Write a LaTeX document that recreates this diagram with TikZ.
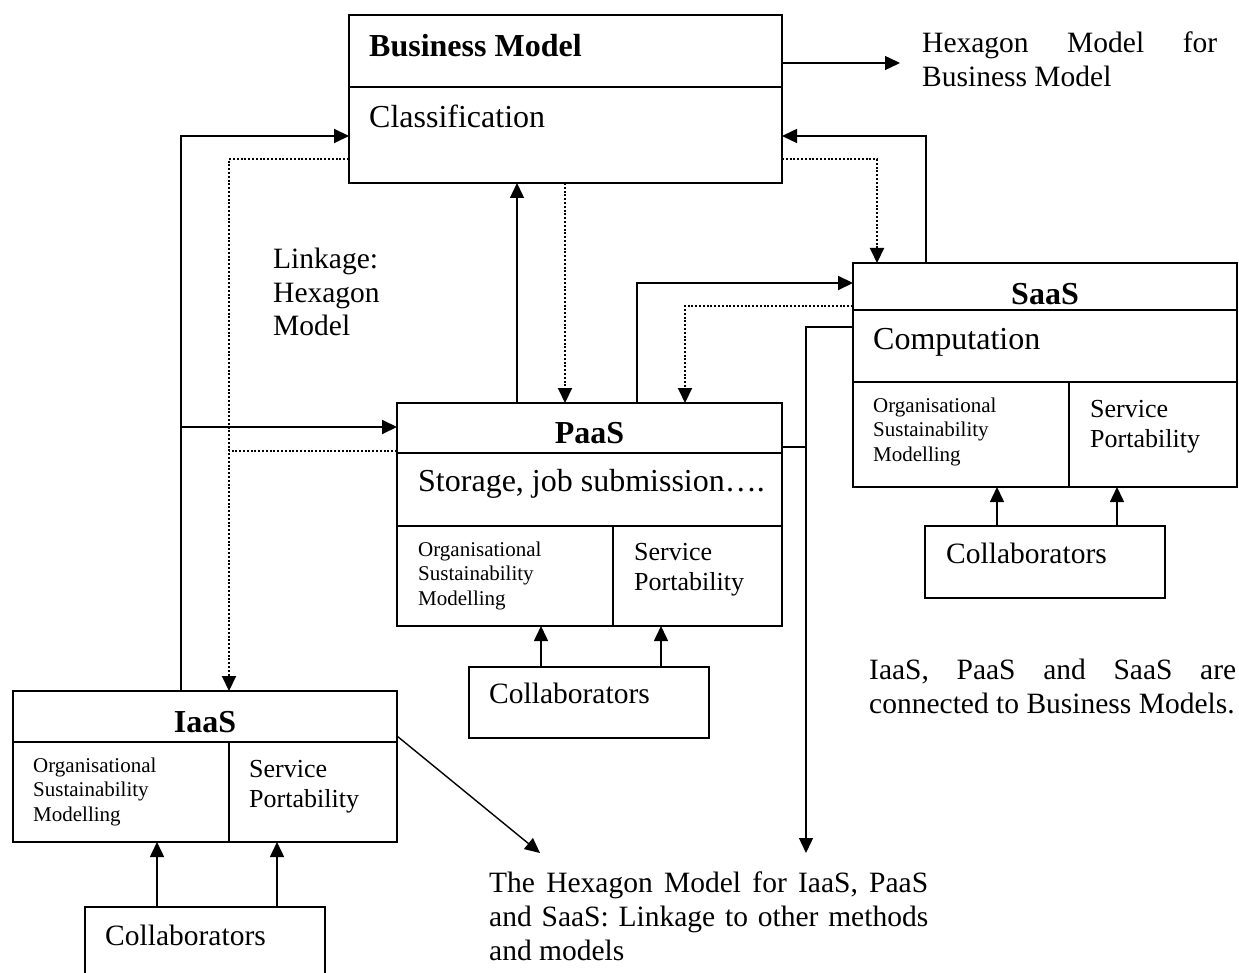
\documentclass[tikz,border=0pt]{standalone}
\usepackage{fontspec}
\setmainfont{Liberation Serif}
\usetikzlibrary{arrows.meta,calc}
\newcommand\myfs[2]{\fontsize{#1}{#2}\selectfont}
\begin{document}
\begin{tikzpicture}[x=1pt,y=-1pt,
  box/.style={draw, line width=1.8pt, inner sep=0pt, outer sep=0pt, anchor=north west},
  divline/.style={line width=1.8pt},
  tip/.style={-{Triangle[length=15pt,width=14pt]}},
  conn/.style={line width=1.5pt, tip},
  thickconn/.style={line width=2pt},
  dotconn/.style={line width=2pt, dash pattern=on 2pt off 1.8pt},
  boxtxt/.style={anchor=base west, inner sep=0pt, font=\myfs{32}{36}},
  titletxt/.style={anchor=base, inner sep=0pt, font=\myfs{32}{36}\bfseries},
  smalltxt/.style={anchor=base west, inner sep=0pt, align=left, font=\myfs{21}{24.5}},
  servtxt/.style={anchor=base west, inner sep=0pt, align=left, font=\myfs{26}{30.5}},
  collabtxt/.style={anchor=base west, inner sep=0pt, font=\myfs{29.5}{33}},
  annot/.style={anchor=base west, inner sep=0pt, align=left, font=\myfs{29.5}{33.5}}
]
\useasboundingbox (0,0) rectangle (1239,973);

% ---------- boxes ----------
\node[box, minimum width=433pt, minimum height=168pt] (bm) at (349,15) {};
\draw[divline] (bm.west |- 0,87) -- (bm.east |- 0,87);
\node[titletxt, anchor=base west] (bmtitle) at (369,57) {Business Model};
\node[boxtxt] (bmclass) at (369,128) {Classification};

\node[box, minimum width=385pt, minimum height=223pt] (paas) at (397,403) {};
\draw[divline] (paas.west |- 0,453) -- (paas.east |- 0,453);
\draw[divline] (paas.west |- 0,526) -- (paas.east |- 0,526);
\draw[divline] (613,526) -- (paas.south -| 613,0);
\node[titletxt] (paastitle) at (589.5,443) {PaaS};
\node[boxtxt] (paasstore) at (418,491) {Storage, job submission….};
% multi-line nodes: base anchor = baseline of the last line
\node[smalltxt] (paasorg) at (418,605) {Organisational\\Sustainability\\Modelling};
\node[servtxt] (paasserv) at (634,590.5) {Service\\Portability};

\node[box, minimum width=384pt, minimum height=224pt] (saas) at (853,263) {};
\draw[divline] (saas.west |- 0,310) -- (saas.east |- 0,310);
\draw[divline] (saas.west |- 0,382) -- (saas.east |- 0,382);
\draw[divline] (1069,382) -- (saas.south -| 1069,0);
\node[titletxt] (saastitle) at (1045,305) {SaaS};
\node[boxtxt] (saascomp) at (873,349) {Computation};
\node[smalltxt] (saasorg) at (873,461) {Organisational\\Sustainability\\Modelling};
\node[servtxt] (saasserv) at (1090,447.5) {Service\\Portability};

\node[box, minimum width=384pt, minimum height=151pt] (iaas) at (13,691) {};
\draw[divline] (iaas.west |- 0,742) -- (iaas.east |- 0,742);
\draw[divline] (229,742) -- (iaas.south -| 229,0);
\node[titletxt] (iaastitle) at (205,732) {IaaS};
\node[smalltxt] (iaasorg) at (33,821) {Organisational\\Sustainability\\Modelling};
\node[servtxt] (iaasserv) at (249,807.5) {Service\\Portability};

% collaborators
\node[box, minimum width=240pt, minimum height=71pt] (colp) at (469,667) {};
\node[collabtxt] (colptxt) at (489,703) {Collaborators};
\node[box, minimum width=240pt, minimum height=72pt] (cols) at (925,526) {};
\node[collabtxt] (colstxt) at (946,563) {Collaborators};
\node[box, minimum width=240pt, minimum height=90pt] (coli) at (85,907) {};
\node[collabtxt] (colitxt) at (105,945) {Collaborators};

% ---------- annotation texts ----------
\node[annot] (hexbmtxt) at (922,86.5) {\makebox[295pt][s]{Hexagon Model for}\\Business Model};
\node[annot] (linktxt) at (273,336) {Linkage:\\Hexagon\\Model};
\node[annot] (conntxt) at (869,713) {\makebox[367pt][s]{IaaS, PaaS and SaaS are}\\connected to Business Models.};
\node[annot, font=\myfs{29.5}{34}] (hexalltxt) at (489,960) {\makebox[439pt][s]{The Hexagon Model for IaaS, PaaS}\\\makebox[439pt][s]{and SaaS: Linkage to other methods}\\and models};

\coordinate (hexbm) at (900,63);
\coordinate (hexall1) at (540,853);
\coordinate (hexall2) at (806,853);
\coordinate (ljoin) at (181,427);
\coordinate (djoin) at (229,451);
\coordinate (rjoin) at (806,447);

% ---------- connectors ----------
\draw[conn, thickconn] (iaas.north -| 181,0) |- (bm.west |- 0,136);
\draw[conn, thickconn] (ljoin) -- (paas.west |- 0,427);
\draw[dotconn, tip] (bm.west |- 0,159) -| (iaas.north -| 229,0);
\draw[dotconn] (paas.west |- 0,451) -- (djoin);

\draw[conn] (paas.north -| 517,0) -- (bm.south -| 517,0);
\draw[dotconn, tip] (bm.south -| 565,0) -- (paas.north -| 565,0);
\draw[conn, thickconn] (paas.north -| 637,0) |- (saas.west |- 0,283);
\draw[dotconn, tip] (saas.west |- 0,306) -| (paas.north -| 685,0);

\draw[conn] (saas.north -| 926,0) |- (bm.east |- 0,136);
\draw[dotconn, tip] (bm.east |- 0,159) -| (saas.north -| 877,0);
\draw[conn, line width=1.4pt] (bm.east |- 0,63) -- (hexbm);

\draw[conn, line width=1.4pt] (saas.west |- 0,327) -| (hexall2);
\draw[line width=1.4pt] (paas.east |- 0,447) -- (rjoin);
\draw[conn, line width=1.4pt] (iaas.east |- 0,736) -- (hexall1);

\draw[conn] (colp.north -| 541,0) -- (paas.south -| 541,0);
\draw[conn] (colp.north -| 661,0) -- (paas.south -| 661,0);
\draw[conn] (cols.north -| 997,0) -- (saas.south -| 997,0);
\draw[conn] (cols.north -| 1117,0) -- (saas.south -| 1117,0);
\draw[conn] (coli.north -| 157,0) -- (iaas.south -| 157,0);
\draw[conn] (coli.north -| 277,0) -- (iaas.south -| 277,0);
\end{tikzpicture}
\end{document}
